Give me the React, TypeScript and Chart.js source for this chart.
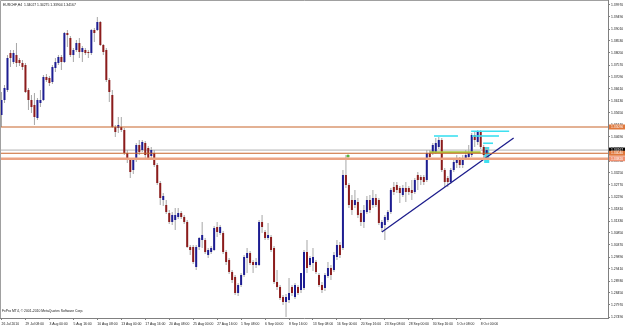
import React, { useEffect, useRef } from 'react';
import { Chart, registerables } from 'chart.js';

Chart.register(...registerables);

// ---- Data (EURCHF, H4) ----
const opens = [
  1.3557, 1.3617, 1.3657, 1.3805, 1.3769, 1.3797, 1.3777, 1.3765, 1.3757, 1.3657,
  1.3617, 1.3597, 1.3545, 1.3605, 1.3617, 1.3709, 1.3705, 1.3689, 1.3745, 1.3765,
  1.3789, 1.3769, 1.3885, 1.3865, 1.3797, 1.3817, 1.3845, 1.3809, 1.3817, 1.3809,
  1.3805, 1.3897, 1.3897, 1.3929, 1.3837, 1.3817, 1.3697, 1.3637, 1.3509, 1.3505,
  1.3509, 1.3497, 1.3405, 1.3377, 1.3337, 1.3377, 1.3437, 1.3417, 1.3445, 1.3425,
  1.3393, 1.3405, 1.3357, 1.3285, 1.3217, 1.3197, 1.3165, 1.3129, 1.3137, 1.3149,
  1.3165, 1.3149, 1.3129, 1.3029, 1.3029, 1.2949, 1.3029, 1.3057, 1.3057, 1.2997,
  1.3009, 1.3017, 1.3109, 1.3085, 1.3085, 1.3009, 1.2977, 1.2929, 1.2909, 1.2845,
  1.2877, 1.2917, 1.2985, 1.3005, 1.2969, 1.2957, 1.2957, 1.3129, 1.3089, 1.3065,
  1.3069, 1.3025, 1.2889, 1.2869, 1.2829, 1.2809, 1.2817, 1.2869, 1.2829, 1.2869,
  1.2857, 1.2865, 1.3009, 1.2957, 1.2965, 1.2969, 1.2917, 1.2877, 1.2865, 1.2913,
  1.2945, 1.2937, 1.2989, 1.3037, 1.3025, 1.3317, 1.3277, 1.3217, 1.3197, 1.3209,
  1.3165, 1.3129, 1.3169, 1.3217, 1.3197, 1.3225, 1.3217, 1.3105, 1.3117, 1.3137,
  1.3169, 1.3269, 1.3277, 1.3265, 1.3237, 1.3265, 1.3265, 1.3257, 1.3249, 1.3317,
  1.3309, 1.3309, 1.3297, 1.3405, 1.3405, 1.3409, 1.3429, 1.3457, 1.3337, 1.3305,
  1.3289, 1.3337, 1.3365, 1.3377, 1.3357, 1.3385, 1.3389, 1.3397, 1.3477, 1.3449,
  1.3489, 1.3429, 1.3403,
];
const highs = [
  1.3649, 1.3677, 1.3797, 1.3817, 1.3817, 1.3845, 1.3785, 1.3777, 1.3765, 1.3665,
  1.3637, 1.3645, 1.3625, 1.3657, 1.3717, 1.3721, 1.3713, 1.3757, 1.3785, 1.3797,
  1.3797, 1.3889, 1.3897, 1.3873, 1.3825, 1.3857, 1.3865, 1.3833, 1.3825, 1.3817,
  1.3901, 1.3905, 1.3949, 1.3933, 1.3841, 1.3825, 1.3705, 1.3657, 1.3517, 1.3549,
  1.3549, 1.3505, 1.3417, 1.3385, 1.3385, 1.3445, 1.3457, 1.3457, 1.3453, 1.3433,
  1.3429, 1.3417, 1.3365, 1.3293, 1.3245, 1.3217, 1.3177, 1.3169, 1.3185, 1.3185,
  1.3173, 1.3157, 1.3137, 1.3037, 1.3037, 1.3037, 1.3069, 1.3129, 1.3065, 1.3025,
  1.3033, 1.3113, 1.3129, 1.3117, 1.3093, 1.3017, 1.2985, 1.2937, 1.2917, 1.2885,
  1.2925, 1.2997, 1.3025, 1.3013, 1.2977, 1.2985, 1.3137, 1.3157, 1.3097, 1.3125,
  1.3077, 1.3033, 1.2937, 1.2877, 1.2837, 1.2841, 1.2905, 1.2877, 1.2885, 1.2877,
  1.2925, 1.3017, 1.3057, 1.2993, 1.3025, 1.2977, 1.2925, 1.2889, 1.2925, 1.2969,
  1.2957, 1.3009, 1.3057, 1.3049, 1.3337, 1.3397, 1.3285, 1.3237, 1.3257, 1.3225,
  1.3177, 1.3197, 1.3233, 1.3237, 1.3257, 1.3241, 1.3225, 1.3137, 1.3157, 1.3177,
  1.3265, 1.3289, 1.3289, 1.3273, 1.3277, 1.3289, 1.3273, 1.3297, 1.3305, 1.3329,
  1.3317, 1.3317, 1.3417, 1.3417, 1.3445, 1.3465, 1.3469, 1.3465, 1.3345, 1.3313,
  1.3345, 1.3385, 1.3397, 1.3389, 1.3397, 1.3417, 1.3437, 1.3485, 1.3489, 1.3497,
  1.3497, 1.3437, 1.34275,
];
const lows = [
  1.3509, 1.3605, 1.3649, 1.3749, 1.3761, 1.3749, 1.3753, 1.3737, 1.3645, 1.3577,
  1.3565, 1.3517, 1.3537, 1.3589, 1.3613, 1.3689, 1.3673, 1.3681, 1.3729, 1.3757,
  1.3737, 1.3765, 1.3829, 1.3789, 1.3769, 1.3809, 1.3785, 1.3769, 1.3797, 1.3785,
  1.3797, 1.3849, 1.3893, 1.3833, 1.3797, 1.3689, 1.3609, 1.3505, 1.3469, 1.3485,
  1.3489, 1.3397, 1.3365, 1.3305, 1.3321, 1.3369, 1.3397, 1.3409, 1.3385, 1.3377,
  1.3377, 1.3349, 1.3277, 1.3197, 1.3193, 1.3161, 1.3121, 1.3117, 1.3097, 1.3141,
  1.3141, 1.3121, 1.3025, 1.2997, 1.2961, 1.2937, 1.3017, 1.3025, 1.3001, 1.2985,
  1.3001, 1.3013, 1.3069, 1.3077, 1.3001, 1.2957, 1.2921, 1.2885, 1.2837, 1.2833,
  1.2869, 1.2909, 1.2925, 1.2957, 1.2925, 1.2945, 1.2953, 1.3085, 1.3057, 1.3057,
  1.3009, 1.2881, 1.2857, 1.2817, 1.2797, 1.2749, 1.2805, 1.2833, 1.2821, 1.2837,
  1.2845, 1.2857, 1.2925, 1.2949, 1.2933, 1.2921, 1.2869, 1.2845, 1.2853, 1.2905,
  1.2897, 1.2929, 1.2977, 1.2985, 1.3017, 1.3265, 1.3185, 1.3157, 1.3185, 1.3145,
  1.3113, 1.3105, 1.3161, 1.3165, 1.3185, 1.3189, 1.3117, 1.3089, 1.3057, 1.3129,
  1.3161, 1.3237, 1.3245, 1.3205, 1.3229, 1.3209, 1.3237, 1.3217, 1.3241, 1.3257,
  1.3277, 1.3277, 1.3289, 1.3377, 1.3397, 1.3401, 1.3421, 1.3329, 1.3269, 1.3269,
  1.3281, 1.3329, 1.3345, 1.3345, 1.3345, 1.3377, 1.3381, 1.3389, 1.3429, 1.3437,
  1.3421, 1.3385, 1.33904,
];
const closes = [
  1.3617, 1.3665, 1.3785, 1.3785, 1.3805, 1.3765, 1.3765, 1.3749, 1.3649, 1.3617,
  1.3589, 1.3549, 1.3617, 1.3617, 1.3709, 1.3697, 1.3685, 1.3749, 1.3769, 1.3789,
  1.3769, 1.3885, 1.3877, 1.3797, 1.3817, 1.3845, 1.3809, 1.3825, 1.3805, 1.3805,
  1.3897, 1.3885, 1.3929, 1.3837, 1.3809, 1.3697, 1.3649, 1.3509, 1.3489, 1.3517,
  1.3497, 1.3405, 1.3377, 1.3329, 1.3377, 1.3437, 1.3409, 1.3449, 1.3397, 1.3385,
  1.3417, 1.3357, 1.3285, 1.3225, 1.3233, 1.3169, 1.3129, 1.3157, 1.3157, 1.3165,
  1.3149, 1.3129, 1.3029, 1.3017, 1.2969, 1.3029, 1.3065, 1.3077, 1.3009, 1.3017,
  1.3025, 1.3105, 1.3089, 1.3109, 1.3009, 1.2969, 1.2929, 1.2897, 1.2845, 1.2877,
  1.2917, 1.2989, 1.3005, 1.2965, 1.2957, 1.2969, 1.3129, 1.3109, 1.3065, 1.3077,
  1.3017, 1.2889, 1.2869, 1.2825, 1.2809, 1.2829, 1.2845, 1.2845, 1.2877, 1.2845,
  1.2925, 1.3009, 1.2945, 1.2985, 1.2989, 1.2929, 1.2877, 1.2857, 1.2917, 1.2945,
  1.2917, 1.2997, 1.3037, 1.2997, 1.3317, 1.3277, 1.3197, 1.3177, 1.3217, 1.3157,
  1.3129, 1.3177, 1.3217, 1.3177, 1.3225, 1.3197, 1.3125, 1.3129, 1.3149, 1.3169,
  1.3257, 1.3249, 1.3257, 1.3245, 1.3265, 1.3249, 1.3249, 1.3245, 1.3297, 1.3297,
  1.3297, 1.3289, 1.3405, 1.3389, 1.3437, 1.3445, 1.3457, 1.3337, 1.3289, 1.3289,
  1.3337, 1.3369, 1.3377, 1.3357, 1.3385, 1.3397, 1.3405, 1.3477, 1.3457, 1.3489,
  1.3429, 1.3397, 1.34167,
];

const timeLabels = [
  '26 Jul 2010', '29 Jul 08:00', '3 Aug 00:00', '5 Aug 16:00', '10 Aug 08:00',
  '13 Aug 00:00', '17 Aug 16:00', '20 Aug 08:00', '25 Aug 00:00', '27 Aug 16:00',
  '1 Sep 08:00', '6 Sep 00:00', '8 Sep 16:00', '13 Sep 08:00', '16 Sep 00:00',
  '20 Sep 16:00', '23 Sep 08:00', '28 Sep 00:00', '30 Sep 16:00', '5 Oct 08:00',
  '8 Oct 00:00',
];
const timeLabelBars = [0, 8, 16, 24, 32, 40, 48, 56, 64, 72, 80, 88, 96, 104, 112, 120, 128, 136, 144, 152, 160];

const priceTicks = [
  1.3997, 1.3949, 1.3901, 1.3853, 1.3805, 1.3757, 1.3709, 1.3661, 1.3613, 1.3565,
  1.3517, 1.3469, 1.3421, 1.3373, 1.3325, 1.3277, 1.3229, 1.3181, 1.3133, 1.3085,
  1.3037, 1.2989, 1.2941, 1.2893, 1.2845, 1.2797, 1.2749,
];

const symbolTitle = 'EURCHF,H4  1.34027 1.34275 1.33904 1.34167';
const copyrightText = 'FxPro MT4, © 2001-2010 MetaQuotes Software Corp.';

// horizontal levels
const levelPrices = [1.3509, 1.34167, 1.3404, 1.3382];
const levelTexts = ['1.35090', '1.34167', '1.34040', '1.33820'];
// trend line (bar index, price)
const trendBars = [127, 171];
const trendPrices = [1.3089, 1.3465];
// cyan segments: start bar, end bar, price
const cyanStart = [144.4, 156.8, 157.1, 160.8];
const cyanEnd = [152.4, 169.5, 166.1, 164.1];
const cyanPrice = [1.3473, 1.3492, 1.3473, 1.3444];
// olive level
const oliveBars = [143, 160];
const olivePrice = 1.3408;
// green marker
const markerBar = 115.7;
const markerPrice = 1.3393;
// cyan box on last bar
const boxBar = 162;
const boxRange = [1.3365, 1.3429];

const TOTAL_SLOTS = 203;

const COLORS = {
  up: '#1d1d92',
  down: '#8c1c1c',
  wick: '#a8a8a8',
  resistance: '#c8642a',
  bid: '#b0b0b0',
  support: '#c8642a',
  zone: '#eba382',
  trend: '#1c1c8c',
  cyan: '#3ee0f0',
  olive: '#a8c83c',
  marker: '#5ab43c',
  axis: '#808080',
  text: '#202020',
};
const levelColors = [COLORS.resistance, COLORS.bid, COLORS.support, COLORS.zone];
const levelWidths = [1.2, 1, 1.2, 2.6];
const boxFill = ['#e0783c', '#000000', '#e0783c', '#f09070'];
const boxText = ['#ffffff', '#ffffff', '#ffffff', '#ffffff'];

const FONT = '"Liberation Sans", Arial, sans-serif';

export default function App() {
  const ref = useRef<HTMLCanvasElement | null>(null);

  useEffect(() => {
    if (!ref.current) return;
    const idx = opens.map((_, i) => i);

    const lineDs = (label: string, pts: { x: number; y: number }[], color: string, width: number, order = 0) => ({
      type: 'line' as const,
      label,
      data: pts,
      borderColor: color,
      borderWidth: width,
      pointRadius: 0,
      fill: false,
      order,
    });

    const datasets: any[] = [];
    levelPrices.forEach((p, i) => {
      datasets.push(
        lineDs('level' + i, [{ x: -0.5, y: p }, { x: TOTAL_SLOTS - 0.5, y: p }], levelColors[i], levelWidths[i], i === 1 ? 3 : 0)
      );
    });
    datasets.push(
      lineDs('trend', trendBars.map((b, i) => ({ x: b, y: trendPrices[i] })), COLORS.trend, 1.3)
    );
    cyanPrice.forEach((p, i) => {
      datasets.push(lineDs('cyan' + i, [{ x: cyanStart[i], y: p }, { x: cyanEnd[i], y: p }], COLORS.cyan, 1.6));
    });
    datasets.push(lineDs('olive', oliveBars.map((b) => ({ x: b, y: olivePrice })), COLORS.olive, 2));
    datasets.push({
      type: 'scatter',
      label: 'marker',
      data: [{ x: markerBar, y: markerPrice }],
      pointRadius: 1.6,
      pointBackgroundColor: COLORS.marker,
      pointBorderWidth: 0,
      order: 0,
    });
    datasets.push({
      type: 'bar',
      label: 'box',
      data: [{ x: boxBar, y: boxRange }],
      backgroundColor: COLORS.cyan,
      grouped: false,
      categoryPercentage: 1,
      barPercentage: 1.7,
      order: 4,
    });
    datasets.push({
      type: 'bar',
      label: 'wicks',
      data: idx.map((i) => ({ x: i, y: [lows[i], highs[i]] })),
      backgroundColor: COLORS.wick,
      grouped: false,
      categoryPercentage: 1,
      barPercentage: 0.34,
      order: 2,
    });
    datasets.push({
      type: 'bar',
      label: 'bodies',
      data: idx.map((i) => ({ x: i, y: [Math.min(opens[i], closes[i]), Math.max(opens[i], closes[i])] })),
      backgroundColor: idx.map((i) => (closes[i] >= opens[i] ? COLORS.up : COLORS.down)),
      grouped: false,
      categoryPercentage: 1,
      barPercentage: 0.67,
      minBarLength: 1,
      order: 1,
    });

    const overlay = {
      id: 'overlay',
      beforeDraw(chart: any) {
        const { ctx, width, height } = chart;
        ctx.save();
        ctx.fillStyle = '#ffffff';
        ctx.fillRect(0, 0, width, height);
        ctx.restore();
      },
      afterDraw(chart: any) {
        const { ctx, chartArea } = chart;
        const y = chart.scales.y;
        ctx.save();
        ctx.strokeStyle = '#a0a0a0';
        ctx.lineWidth = 1;
        ctx.beginPath();
        ctx.moveTo(0.5, chartArea.bottom);
        ctx.lineTo(0.5, 0.5);
        ctx.lineTo(chartArea.right, 0.5);
        ctx.stroke();

        ctx.fillStyle = COLORS.text;
        ctx.font = '3.4px ' + FONT;
        ctx.textBaseline = 'middle';
        ctx.textAlign = 'left';
        ctx.fillText(symbolTitle, 3, 5);
        ctx.fillText(copyrightText, 2, chartArea.bottom - 7);

        levelPrices.forEach((p, i) => {
          const py = y.getPixelForValue(p);
          ctx.fillStyle = boxFill[i];
          ctx.fillRect(chartArea.right + 1, py - 2.5, 17, 5);
          ctx.fillStyle = boxText[i];
          ctx.fillText(levelTexts[i], chartArea.right + 3, py);
        });
        ctx.restore();
      },
    };

    const chart = new Chart(ref.current, {
      data: { datasets },
      options: {
        animation: false,
        responsive: false,
        maintainAspectRatio: false,
        layout: { padding: 0, autoPadding: false },
        plugins: { legend: { display: false }, tooltip: { enabled: false }, title: { display: false } },
        font: { family: FONT },
        scales: {
          x: {
            type: 'linear',
            offset: false,
            min: -0.5,
            max: TOTAL_SLOTS - 0.5,
            afterBuildTicks: (s: any) => {
              s.ticks = timeLabelBars.map((v) => ({ value: v }));
            },
            afterFit: (s: any) => {
              s.height = 16;
              s.paddingLeft = 0;
              s.paddingRight = 0;
            },
            ticks: {
              callback: (_v: any, i: number) => timeLabels[i] ?? '',
              autoSkip: false,
              maxRotation: 0,
              minRotation: 0,
              align: 'start',
              padding: 2,
              color: COLORS.text,
              font: { size: 3.4, family: FONT },
            },
            grid: { offset: false, drawOnChartArea: false, drawTicks: true, tickLength: 2, color: COLORS.axis },
            border: { color: COLORS.axis },
          },
          y: {
            type: 'linear',
            position: 'right',
            offset: false,
            min: 1.2745,
            max: 1.4017,
            afterBuildTicks: (s: any) => {
              s.ticks = priceTicks.map((v) => ({ value: v }));
            },
            afterFit: (s: any) => {
              s.width = 17;
              s.paddingTop = 0;
              s.paddingBottom = 0;
            },
            ticks: {
              callback: (v: any) => Number(v).toFixed(5),
              padding: 1,
              color: COLORS.text,
              font: { size: 3.4, family: FONT },
            },
            grid: { drawOnChartArea: false, drawTicks: true, tickLength: 2, color: COLORS.axis },
            border: { color: COLORS.axis },
          },
        },
      } as any,
      plugins: [overlay],
    } as any);

    return () => chart.destroy();
  }, []);

  return (
    <div style={{ position: 'fixed', left: 0, top: 0, width: 625, height: 334, background: '#fff' }}>
      <canvas ref={ref} width={625} height={334} style={{ display: 'block' }} />
    </div>
  );
}
